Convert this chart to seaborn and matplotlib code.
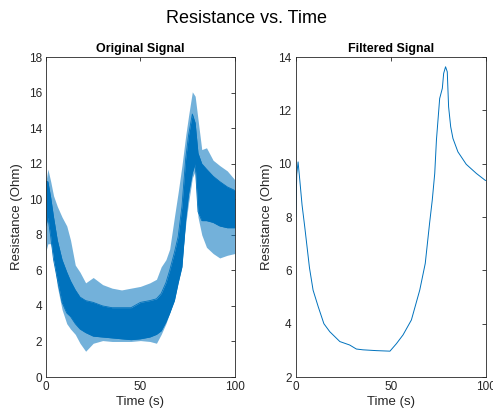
import matplotlib
matplotlib.use("Agg")
import matplotlib.pyplot as plt
import seaborn as sns
import pandas as pd

# ---- Filtered signal ----
filt_t = [0, 0.5, 1.2, 2.1, 3.3, 4.7, 7.2, 9.1, 11.8, 14.8, 17.9, 23.2, 28.4,
          31.9, 35.4, 42.4, 49.6, 53.0, 56.5, 60.9, 65.3, 68.2, 70.5, 71.9, 73.2,
          74.1, 75.8, 77.2, 77.9, 78.9, 79.8, 80.5, 81.6, 82.8, 85.4, 89.8, 95.1,
          99.6, 100]
filt_v = [8.0, 9.6, 10.07, 9.39, 8.45, 7.64, 6.1, 5.26, 4.64, 4.0, 3.7,
          3.33, 3.2, 3.05, 3.02, 2.99, 2.97, 3.25, 3.58, 4.14, 5.26, 6.26, 7.78,
          8.64, 9.64, 10.9, 12.45, 12.83, 13.39, 13.64, 13.45, 12.14, 11.39, 10.95,
          10.45, 9.98, 9.64, 9.39, 9.37]

# ---- Original (noisy) signal envelopes ----
orig_t = [0, 1, 2.5, 4, 6, 8.5, 11, 13, 15.5, 18, 21, 25, 30, 35, 40, 45, 50, 55,
          58.5, 61, 63.5, 65.5, 68, 70, 72, 74, 75.5, 77.5, 79, 80.5, 82.5, 85,
          88.5, 92, 96, 100]
spike_max = [11.0, 11.7, 11.0, 10.2, 9.6, 9.0, 8.5, 7.7, 6.3, 5.9, 5.3, 5.6, 5.2,
             5.0, 4.9, 5.0, 5.1, 5.3, 5.5, 6.2, 6.6, 7.2, 9.0, 10.4, 11.9, 13.6,
             14.7, 16.05, 15.8, 14.5, 12.8, 12.9, 12.2, 11.9, 11.6, 11.1]
spike_min = [7.1, 7.5, 7.5, 6.8, 5.1, 3.8, 3.0, 2.7, 2.4, 1.9, 1.45, 1.9, 2.05,
             2.0, 2.0, 2.0, 2.05, 2.0, 1.9, 2.4, 3.0, 3.6, 4.5, 5.6, 6.6, 8.6,
             9.8, 11.2, 11.6, 9.0, 8.0, 7.3, 6.95, 6.7, 6.85, 6.95]
core_max = [11.0, 11.0, 10.1, 9.0, 7.7, 6.6, 5.9, 5.4, 4.9, 4.5, 4.3, 4.2, 4.0,
            3.9, 3.9, 3.9, 4.2, 4.3, 4.4, 4.7, 5.3, 6.0, 7.0, 7.9, 9.6, 12.3,
            13.6, 14.8, 14.3, 12.6, 12.0, 11.7, 11.3, 11.0, 10.7, 10.5]
core_min = [8.5, 9.0, 7.9, 6.6, 5.5, 4.2, 3.6, 3.4, 3.0, 2.7, 2.5, 2.3, 2.25, 2.2,
            2.15, 2.1, 2.15, 2.25, 2.4, 2.6, 3.1, 3.6, 4.3, 5.3, 6.2, 8.9, 10.3,
            11.5, 12.0, 9.3, 8.8, 8.8, 8.7, 8.5, 8.4, 8.4]

left_yticks = [0, 2, 4, 6, 8, 10, 12, 14, 16, 18]
right_yticks = [2, 4, 6, 8, 10, 12, 14]
xticks = [0, 50, 100]

BLUE = "#0072BD"
DARK = "#262626"

sns.set_theme(style="white")
plt.rcParams["font.family"] = ["Liberation Sans", "DejaVu Sans"]

fig = plt.figure(figsize=(4.93, 4.17), dpi=100)
ax1 = fig.add_axes([0.0933, 0.0959, 0.383, 0.767])
ax2 = fig.add_axes([0.600, 0.0959, 0.385, 0.767])

filt_df = pd.DataFrame({"t": filt_t, "v": filt_v})
orig_df = pd.DataFrame({"t": orig_t, "smax": spike_max, "smin": spike_min,
                        "cmax": core_max, "cmin": core_min})

# Original signal
ax1.fill_between(orig_df["t"], orig_df["smin"], orig_df["smax"], color=BLUE,
                 alpha=0.55, lw=0)
ax1.fill_between(orig_df["t"], orig_df["cmin"], orig_df["cmax"], color=BLUE,
                 alpha=1.0, lw=0)
sns.lineplot(data=orig_df, x="t", y="cmax", ax=ax1, color=BLUE, lw=0.6)
sns.lineplot(data=orig_df, x="t", y="cmin", ax=ax1, color=BLUE, lw=0.6)

# Filtered signal
sns.lineplot(data=filt_df, x="t", y="v", ax=ax2, color=BLUE, lw=0.7)

for ax, yt, title in [(ax1, left_yticks, "Original Signal"),
                      (ax2, right_yticks, "Filtered Signal")]:
    ax.set_xlim(0, 100)
    ax.set_ylim(yt[0], yt[-1])
    ax.set_xticks(xticks)
    ax.set_yticks(yt)
    ax.set_xlabel("Time (s)", fontsize=9.5, color=DARK, labelpad=2)
    ax.set_ylabel("Resistance (Ohm)", fontsize=9.5, color=DARK, labelpad=4)
    ax.set_title(title, fontsize=9, fontweight="bold", color="black", pad=4)
    ax.tick_params(direction="in", top=True, right=True, length=3, width=0.6,
                   colors=DARK, labelsize=8.5, pad=3)
    for sp in ax.spines.values():
        sp.set_visible(True)
        sp.set_color(DARK)
        sp.set_linewidth(0.6)
    ax.grid(False)
    ax.set_facecolor("white")

fig.suptitle("Resistance vs. Time", fontsize=13, y=0.975, color="black")
fig.savefig("out.png", dpi=100, facecolor="white")
